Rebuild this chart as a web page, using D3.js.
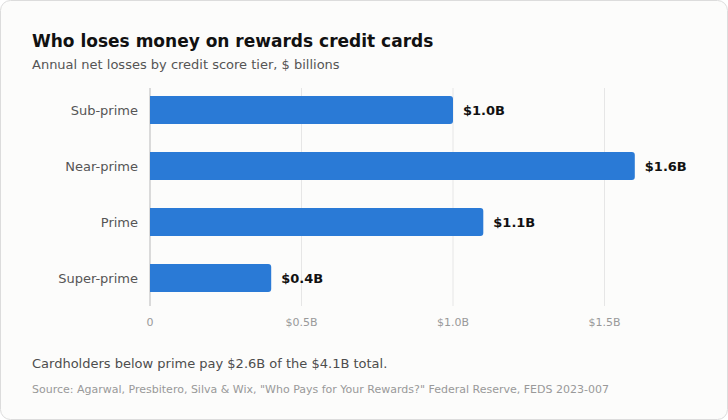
<!DOCTYPE html>
<html><head><meta charset="utf-8">
<script src="https://cdn.jsdelivr.net/npm/d3@7"></script>
<style>
html,body{margin:0;padding:0;background:#fff;}
body{width:728px;height:420px;overflow:hidden;font-family:"DejaVu Sans",sans-serif;}
</style></head>
<body><svg id="c" width="728" height="420"></svg>
<script>
const categories = ["Sub-prime","Near-prime","Prime","Super-prime"];
const values = [1.0, 1.6, 1.1, 0.4];
const valueLabels = ["$1.0B","$1.6B","$1.1B","$0.4B"];
const tickValues = [0, 0.5, 1.0, 1.5];
const tickLabels = ["0","$0.5B","$1.0B","$1.5B"];

const svg = d3.select("#c");
svg.append("rect").attr("x",0.5).attr("y",0.5).attr("width",727).attr("height",419)
  .attr("rx",10).attr("fill","#fcfcfb").attr("stroke","#dcdcdc");

svg.append("text").attr("x",32).attr("y",47).attr("font-size",17).attr("font-weight","bold")
  .attr("fill","#111").text("Who loses money on rewards credit cards");
svg.append("text").attr("x",32).attr("y",69).attr("font-size",13).attr("fill","#555")
  .text("Annual net losses by credit score tier, $ billions");

const x = d3.scaleLinear().domain([0,1.8]).range([150,150+303*1.8]);
const y = d3.scaleBand().domain(categories).range([82,306]).paddingInner(0.5).paddingOuter(0.25);

const g = svg.append("g");
g.selectAll("line.grid").data(tickValues).join("line").attr("class","grid")
  .attr("x1",d=>x(d)).attr("x2",d=>x(d)).attr("y1",88).attr("y2",306)
  .attr("stroke",(d,i)=>i===0?"#cfcfcf":"#e6e6e6").attr("stroke-width",(d,i)=>i===0?1.5:1);

g.selectAll("text.tick").data(tickValues).join("text").attr("class","tick")
  .attr("x",d=>x(d)).attr("y",326).attr("text-anchor","middle").attr("font-size",11)
  .attr("fill","#999").text((d,i)=>tickLabels[i]);

const r = 3;
g.selectAll("path.bar").data(values).join("path").attr("class","bar")
  .attr("fill","#2a7ad6")
  .attr("d",(d,i)=>{
    const x0 = x(0), x1 = x(d), y0 = y(categories[i]), h = y.bandwidth();
    return `M${x0},${y0}H${x1-r}Q${x1},${y0} ${x1},${y0+r}V${y0+h-r}Q${x1},${y0+h} ${x1-r},${y0+h}H${x0}Z`;
  });

g.selectAll("text.val").data(values).join("text").attr("class","val")
  .attr("x",d=>x(d)+10).attr("y",(d,i)=>y(categories[i])+y.bandwidth()/2)
  .attr("dy","0.35em").attr("font-size",13).attr("font-weight","bold").attr("fill","#111")
  .text((d,i)=>valueLabels[i]);

g.selectAll("text.cat").data(categories).join("text").attr("class","cat")
  .attr("x",138).attr("y",d=>y(d)+y.bandwidth()/2).attr("dy","0.35em")
  .attr("text-anchor","end").attr("font-size",13).attr("fill","#555").text(d=>d);

svg.append("text").attr("x",32).attr("y",368).attr("font-size",13).attr("fill","#4d4d4d")
  .text("Cardholders below prime pay $2.6B of the $4.1B total.");
svg.append("text").attr("x",32).attr("y",393).attr("font-size",11).attr("fill","#999")
  .text("Source: Agarwal, Presbitero, Silva & Wix, \"Who Pays for Your Rewards?\" Federal Reserve, FEDS 2023-007");
</script></body></html>
